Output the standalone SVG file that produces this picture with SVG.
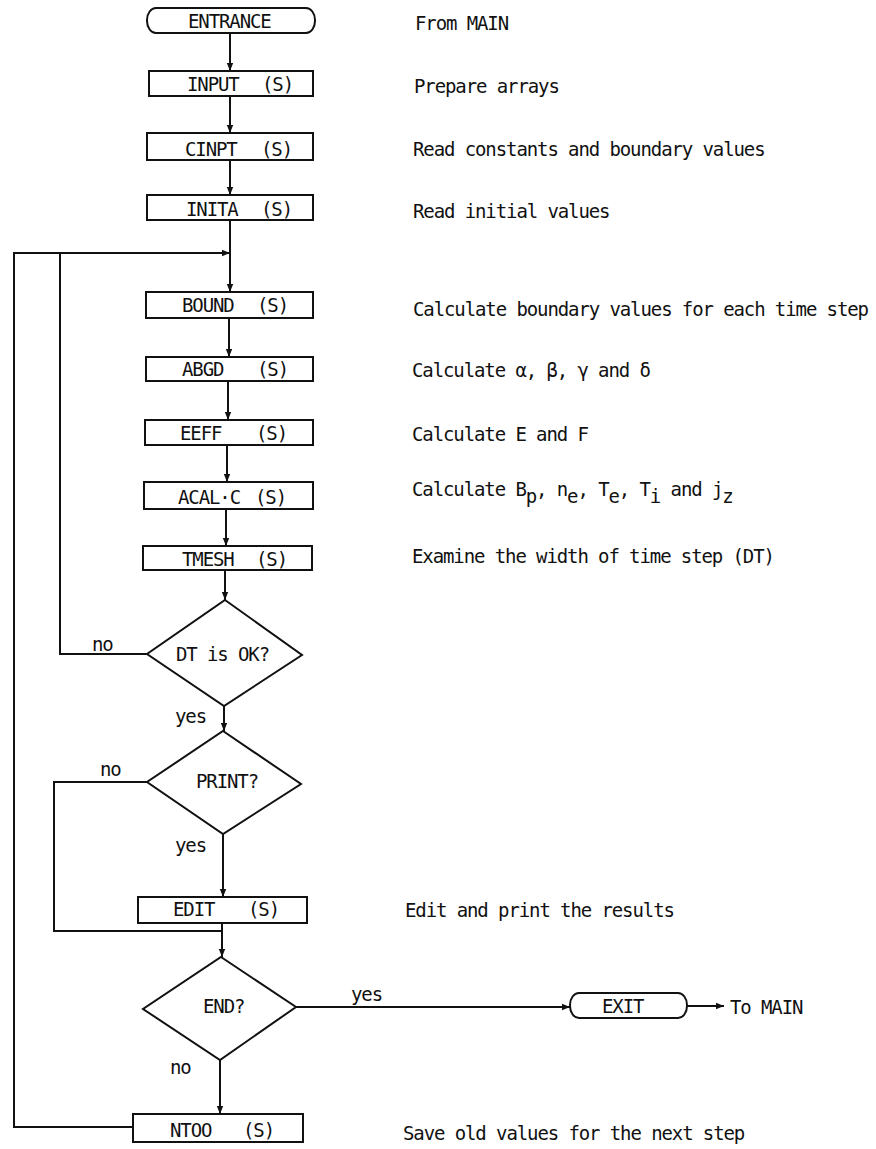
<svg xmlns="http://www.w3.org/2000/svg" width="876" height="1149" viewBox="0 0 876 1149">
<style>
text{font-family:"DejaVu Sans Mono","Liberation Mono",monospace;font-size:19px;letter-spacing:-1.1px;fill:#111}
.box{fill:#fff;stroke:#111;stroke-width:2}
.ln{fill:none;stroke:#111;stroke-width:2;stroke-linejoin:miter}
.arr{marker-end:url(#ah)}
</style>
<defs>
<marker id="ah" viewBox="0 0 10 10" refX="10" refY="5" markerWidth="4" markerHeight="4" orient="auto" markerUnits="strokeWidth">
<path d="M0,1 L10,5 L0,9 Z" fill="#111"/>
</marker>
</defs>
<rect width="876" height="1149" fill="#fff"/>
<g id="connectors">
<path class="ln arr" d="M230,33 V71"/>
<path class="ln arr" d="M230,96 V133"/>
<path class="ln arr" d="M230,160 V195"/>
<path class="ln arr" d="M230,220 V292"/>
<path class="ln arr" d="M229,318 V357"/>
<path class="ln arr" d="M228,381 V420"/>
<path class="ln arr" d="M227,445 V482"/>
<path class="ln arr" d="M226,509 V546"/>
<path class="ln arr" d="M225,570 V600"/>
<path class="ln arr" d="M224,706 V731"/>
<path class="ln arr" d="M223,834 V897"/>
<path class="ln arr" d="M222,923 V957"/>
<path class="ln arr" d="M220,1060 V1114"/>
<path class="ln arr" d="M296,1007 H570"/>
<path class="ln arr" d="M687,1006 H724"/>
<path class="ln arr" d="M147,654 H60 V253 H230"/>
<path class="ln" d="M133,1127 H14 V253 H60"/>
<path class="ln" d="M147,782 H54 V931 H222"/>
<text x="92" y="651">no</text>
<text x="175" y="723">yes</text>
<text x="100" y="776">no</text>
<text x="175" y="852">yes</text>
<text x="351" y="1001">yes</text>
<text x="170" y="1074">no</text>
<text x="730" y="1014">To MAIN</text>
</g>
<g id="entrance">
<rect class="box" x="147" y="8" width="168" height="25" rx="9" ry="12"/>
<text x="188" y="28">ENTRANCE</text>
<text x="415" y="30">From MAIN</text>
</g>
<g id="input">
<rect class="box" x="149" y="71" width="164" height="25"/>
<text x="187" y="91">INPUT<tspan x="262">(S)</tspan></text>
<text x="414" y="93">Prepare arrays</text>
</g>
<g id="cinpt">
<rect class="box" x="147" y="133" width="166" height="27"/>
<text x="185" y="156">CINPT<tspan x="261">(S)</tspan></text>
<text x="413" y="156">Read constants and boundary values</text>
</g>
<g id="inita">
<rect class="box" x="147" y="195" width="166" height="25"/>
<text x="186" y="216">INITA<tspan x="261">(S)</tspan></text>
<text x="413" y="218">Read initial values</text>
</g>
<g id="bound">
<rect class="box" x="146" y="292" width="167" height="26"/>
<text x="182" y="312">BOUND<tspan x="257">(S)</tspan></text>
<text x="413" y="316">Calculate boundary values for each time step</text>
</g>
<g id="abgd">
<rect class="box" x="146" y="357" width="167" height="24"/>
<text x="182" y="376">ABGD<tspan x="257">(S)</tspan></text>
<text x="412" y="377">Calculate α, β, γ and δ</text>
</g>
<g id="eeff">
<rect class="box" x="145" y="420" width="168" height="25"/>
<text x="180" y="440">EEFF<tspan x="256">(S)</tspan></text>
<text x="412" y="441">Calculate E and F</text>
</g>
<g id="acalc">
<rect class="box" x="144" y="482" width="169" height="27"/>
<text x="178" y="504">ACAL·C<tspan x="255">(S)</tspan></text>
<text x="412" y="496">Calculate B<tspan dy="7">p</tspan><tspan dy="-7">, n</tspan><tspan dy="7">e</tspan><tspan dy="-7">, T</tspan><tspan dy="7">e</tspan><tspan dy="-7">, T</tspan><tspan dy="7">i</tspan><tspan dy="-7"> and j</tspan><tspan dy="7">z</tspan></text>
</g>
<g id="tmesh">
<rect class="box" x="143" y="546" width="169" height="24"/>
<text x="182" y="566">TMESH<tspan x="256">(S)</tspan></text>
<text x="412" y="563">Examine the width of time step (DT)</text>
</g>
<g id="dt-ok">
<polygon class="box" points="225,600 302,655 224,706 147,654"/>
<text x="176" y="661">DT is OK?</text>
</g>
<g id="print">
<polygon class="box" points="223,731 301,784 223,834 147,782"/>
<text x="196" y="788">PRINT?</text>
</g>
<g id="edit">
<rect class="box" x="138" y="897" width="169" height="26"/>
<text x="173" y="916">EDIT<tspan x="248">(S)</tspan></text>
<text x="405" y="917">Edit and print the results</text>
</g>
<g id="end">
<polygon class="box" points="221,957 296,1007 220,1060 143,1009"/>
<text x="203" y="1013">END?</text>
</g>
<g id="exit">
<rect class="box" x="570" y="993" width="117" height="25" rx="9" ry="12"/>
<text x="602" y="1013">EXIT</text>
</g>
<g id="ntoo">
<rect class="box" x="133" y="1114" width="170" height="28"/>
<text x="170" y="1137">NTOO<tspan x="243">(S)</tspan></text>
<text x="403" y="1140">Save old values for the next step</text>
</g>
</svg>
